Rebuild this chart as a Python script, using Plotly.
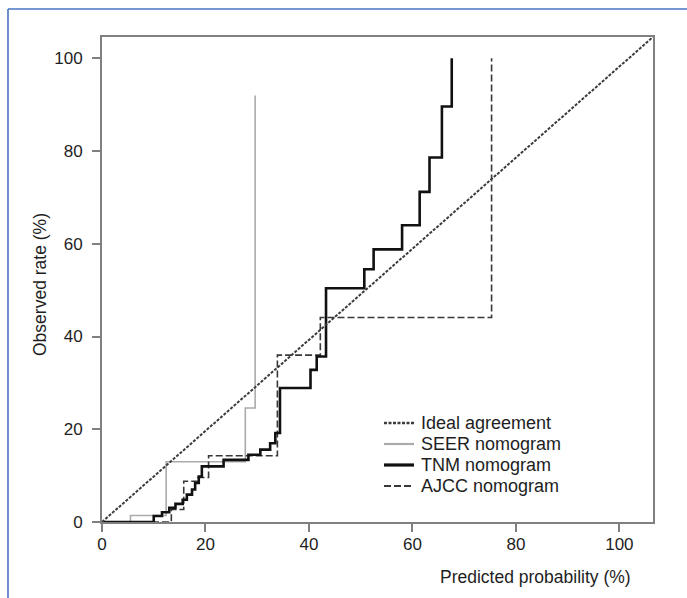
import plotly.graph_objects as go

# ---------------- data ----------------
ideal_x = [0, 106.5]
ideal_y = [0, 104.6]

# step curves: x where the curve jumps, y = level after the jump (line_shape 'hv')
seer_x = [0, 5.5, 12.4, 27.7, 29.6]
seer_y = [0, 1.4, 13.0, 24.6, 92.0]

tnm_x = [0, 10.0, 11.6, 13.0, 14.2, 15.6, 16.4, 17.4, 18.0, 18.7, 19.3, 23.5, 28.3,
         30.6, 32.5, 33.5, 34.4, 40.3, 41.5, 43.3, 50.7, 52.5, 58.0, 61.4, 63.3,
         65.7, 67.6]
tnm_y = [0, 1.3, 2.1, 3.05, 3.9, 4.8, 5.9, 7.0, 8.4, 9.8, 12.0, 13.4, 14.5,
         15.6, 17.0, 19.2, 28.9, 32.8, 35.7, 50.4, 54.5, 58.8, 64.0, 71.2, 78.6,
         89.6, 100.0]

ajcc_x = [0, 13.4, 15.8, 18.5, 20.6, 33.9, 42.2, 75.3]
ajcc_y = [0, 2.7, 8.8, 9.6, 14.3, 36.0, 44.1, 100.0]

x_ticks = [0, 20, 40, 60, 80, 100]
y_ticks = [0, 20, 40, 60, 80, 100]

series_names = ["Ideal agreement", "SEER nomogram", "TNM nomogram", "AJCC nomogram"]
x_title = "Predicted probability (%)"
y_title = "Observed rate (%)"

# ---------------- layout geometry ----------------
W, H = 687, 598
ML, MR, MT, MB = 102, 34, 37, 76
PW, PH = W - ML - MR, H - MT - MB


def px(xpix):
    return (xpix - ML) / PW


def py(ypix):
    return (H - MB - ypix) / PH


FONT = "Liberation Sans, Arial, sans-serif"
TXT = "#1e1e1e"

styles = {
    "Ideal agreement": dict(color="#3c3c3c", width=2, dash="3px,1.5px"),
    "SEER nomogram": dict(color="#ababab", width=1.6, dash="solid"),
    "TNM nomogram": dict(color="#111111", width=2.6, dash="solid"),
    "AJCC nomogram": dict(color="#383838", width=1.6, dash="7px,3px"),
}

fig = go.Figure()
fig.add_trace(go.Scatter(x=seer_x, y=seer_y, mode="lines", line_shape="hv",
                         line=styles["SEER nomogram"], name=series_names[1]))
fig.add_trace(go.Scatter(x=ajcc_x, y=ajcc_y, mode="lines", line_shape="hv",
                         line=styles["AJCC nomogram"], name=series_names[3]))
fig.add_trace(go.Scatter(x=tnm_x, y=tnm_y, mode="lines", line_shape="hv",
                         line=styles["TNM nomogram"], name=series_names[2]))
fig.add_trace(go.Scatter(x=ideal_x, y=ideal_y, mode="lines",
                         line=styles["Ideal agreement"], name=series_names[0]))

axis_common = dict(
    showgrid=False, zeroline=False, showline=True, mirror=True,
    linecolor="#808080", linewidth=2, ticks="outside", ticklen=8,
    tickcolor="#808080", tickwidth=1.5,
    tickfont=dict(family=FONT, size=17, color=TXT),
)
fig.update_xaxes(range=[0, 106.5], tickvals=x_ticks, ticklabelstandoff=-2, **axis_common)
fig.update_yaxes(range=[0, 104.6], tickvals=y_ticks, ticklabelstandoff=6, **axis_common)

# manual legend (tight rows like the reference)
row_y = [423, 444, 465, 486]
shapes = []
annotations = []
for name, yy in zip(series_names, row_y):
    st = styles[name]
    shapes.append(dict(type="line", xref="paper", yref="paper",
                       x0=px(384), x1=px(414), y0=py(yy), y1=py(yy),
                       line=dict(color=st["color"], width=st["width"] + 0.6,
                                 dash=st["dash"])))
    annotations.append(dict(text=name, xref="paper", yref="paper",
                            x=px(419), y=py(yy), xanchor="left", yanchor="middle",
                            showarrow=False,
                            font=dict(family=FONT, size=18, color=TXT)))

# axis titles
annotations.append(dict(text=x_title, xref="paper", yref="paper", x=px(633), y=py(577),
                        xanchor="right", yanchor="middle", showarrow=False,
                        font=dict(family=FONT, size=17.5, color=TXT)))
annotations.append(dict(text=y_title, xref="paper", yref="paper", x=px(40), y=py(285),
                        xanchor="center", yanchor="middle", textangle=-90,
                        showarrow=False,
                        font=dict(family=FONT, size=17.5, color=TXT)))

# blue outer frame (left and top edges visible)
blue = dict(color="#4a74c0", width=1.6)
shapes.append(dict(type="line", xref="paper", yref="paper",
                   x0=px(8), x1=px(8), y0=py(H + 2), y1=py(9), line=blue))
shapes.append(dict(type="line", xref="paper", yref="paper",
                   x0=px(8), x1=px(W + 2), y0=py(9), y1=py(9), line=blue))

fig.update_layout(
    width=W, height=H,
    margin=dict(l=ML, r=MR, t=MT, b=MB),
    paper_bgcolor="white", plot_bgcolor="white",
    showlegend=False,
    shapes=shapes, annotations=annotations,
    font=dict(family=FONT),
)

fig.write_html("out.html")
